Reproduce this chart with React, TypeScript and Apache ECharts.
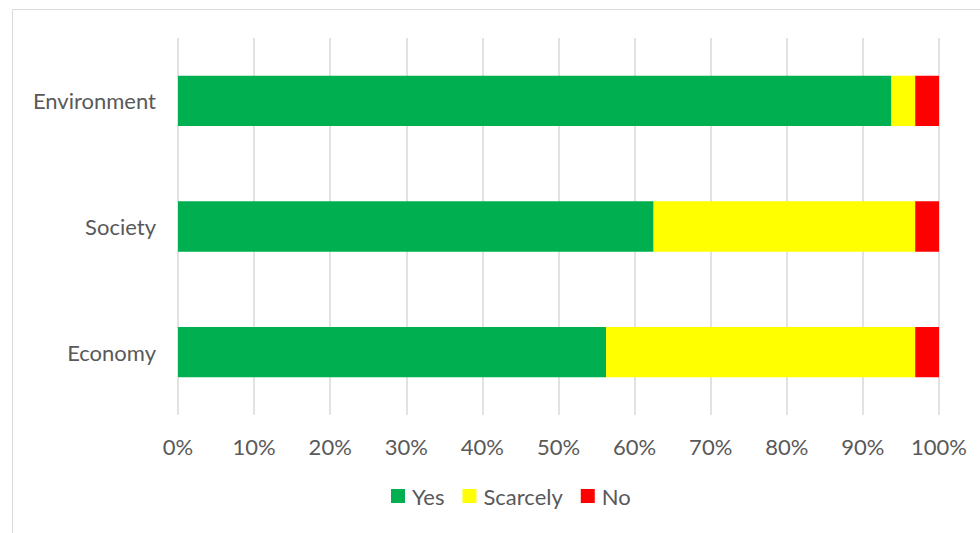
import React, { useEffect, useRef } from "react";
import * as echarts from "echarts";

const categories = ["Economy", "Society", "Environment"];
const seriesNames = ["Yes", "Scarcely", "No"];
const yesValues = [56.25, 62.5, 93.75];
const scarcelyValues = [40.625, 34.375, 3.125];
const noValues = [3.125, 3.125, 3.125];
const colors = ["#00B050", "#FFFF00", "#FF0000"];
const tickLabels = ["0%", "10%", "20%", "30%", "40%", "50%", "60%", "70%", "80%", "90%", "100%"];

const FONT = "Lato";
const TEXT = "#595959";

export default function App() {
  const ref = useRef<HTMLDivElement>(null);
  useEffect(() => {
    if (!ref.current) return;
    const chart = echarts.init(ref.current, undefined, { renderer: "svg" });
    const values = [yesValues, scarcelyValues, noValues];
    chart.setOption({
      animation: false,
      backgroundColor: "#ffffff",
      textStyle: { fontFamily: FONT },
      graphic: [
        {
          type: "rect",
          shape: { x: 12.5, y: 9.5, width: 1000, height: 600 },
          style: { fill: "none", stroke: "#d9d9d9", lineWidth: 1 },
          silent: true,
        },
      ],
      grid: { left: 178, right: 41, top: 38, bottom: 118, containLabel: false },
      legend: {
        bottom: 21,
        left: 386,
        itemWidth: 14,
        itemHeight: 14,
        itemGap: 18,
        icon: "rect",
        textStyle: { color: TEXT, fontSize: 22, fontFamily: FONT, padding: [0, 0, 0, 2] },
        data: seriesNames,
      },
      xAxis: {
        type: "value",
        min: 0,
        max: 100,
        interval: 10,
        axisLine: { show: false },
        axisTick: { show: false },
        splitLine: { show: true, lineStyle: { color: "#d9d9d9", width: 1.5 } },
        axisLabel: {
          color: TEXT,
          fontSize: 22,
          fontFamily: FONT,
          margin: 20,
          formatter: (v: number) => tickLabels[Math.round(v / 10)],
        },
      },
      yAxis: {
        type: "category",
        data: categories,
        axisLine: { show: false },
        axisTick: { show: false },
        axisLabel: { color: TEXT, fontSize: 22, fontFamily: FONT, margin: 22 },
      },
      series: seriesNames.map((name, i) => ({
        name,
        type: "bar",
        stack: "total",
        data: values[i],
        barCategoryGap: "60%",
        itemStyle: { color: colors[i] },
      })),
    });
    return () => chart.dispose();
  }, []);
  return (
    <div
      ref={ref}
      style={{ position: "fixed", left: 0, top: 0, width: 980, height: 533 }}
    />
  );
}
